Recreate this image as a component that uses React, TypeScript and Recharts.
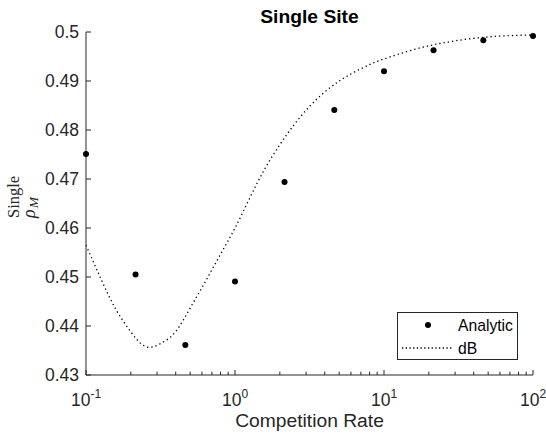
import { ComposedChart, Line, Scatter, XAxis, YAxis, Legend } from "recharts"

// Analytic points (competition rate, rho)
const analyticX = [0.1, 0.215, 0.464, 1, 2.15, 4.64, 10, 21.5, 46.4, 100]
const analyticY = [0.4751, 0.4505, 0.4361, 0.4491, 0.4694, 0.4841, 0.492, 0.4963, 0.4983, 0.4992]

// dB curve
const dbX = [
  0.1, 0.126, 0.158, 0.2, 0.251, 0.316, 0.398, 0.501, 0.631, 0.794, 1, 1.26, 1.58, 2, 2.51, 3.16,
  3.98, 5.01, 6.31, 7.94, 10, 15.8, 25.1, 39.8, 63.1, 100,
]
const dbY = [
  0.4565, 0.4496, 0.4435, 0.4388, 0.4358, 0.4364, 0.4388, 0.4437, 0.449, 0.4545, 0.46, 0.4662,
  0.472, 0.477, 0.4812, 0.4848, 0.4877, 0.49, 0.4918, 0.4933, 0.4945, 0.4964, 0.4978, 0.4987,
  0.4992, 0.4994,
]

const majorXTicks = [0.1, 1, 10, 100]
const xExponents = ["-1", "0", "1", "2"]
const minorXTicks = [
  0.2, 0.3, 0.4, 0.5, 0.6, 0.7, 0.8, 0.9, 2, 3, 4, 5, 6, 7, 8, 9, 20, 30, 40, 50, 60, 70, 80, 90,
]
const yTicks = [0.43, 0.44, 0.45, 0.46, 0.47, 0.48, 0.49, 0.5]
const seriesNames = ["Analytic", "dB"]

const analyticData = analyticX.map((x, i) => ({ x, y: analyticY[i] }))
const dbData = dbX.map((x, i) => ({ x, y: dbY[i] }))
const xTicks = [...majorXTicks, ...minorXTicks].sort((a, b) => a - b)

const AXIS = "#262626"
const SANS = "'Liberation Sans', Arial, Helvetica, sans-serif"
const SERIF = "'Liberation Serif', 'Times New Roman', serif"

function XTick(props: any) {
  const { x, y, payload } = props
  const idx = majorXTicks.indexOf(payload.value)
  const major = idx >= 0
  return (
    <g>
      <line x1={x} y1={y} x2={x} y2={y - (major ? 5 : 3.3)} stroke={AXIS} />
      {major && (
        <text x={x} y={y + 30.5} textAnchor="middle" fill={AXIS} fontSize={17.5} fontFamily={SANS}>
          <tspan>10</tspan>
          <tspan dy={-7.5} fontSize={12}>
            {xExponents[idx]}
          </tspan>
        </text>
      )}
    </g>
  )
}

function YTick(props: any) {
  const { x, y, payload } = props
  return (
    <g>
      <line x1={x} y1={y} x2={x + 5} y2={y} stroke={AXIS} />
      <text x={x - 7} y={y + 6.3} textAnchor="end" fill={AXIS} fontSize={17.5} fontFamily={SANS}>
        {String(payload.value)}
      </text>
    </g>
  )
}

function XLabel(props: any) {
  const vb = props.viewBox || {}
  return (
    <text
      x={vb.x + vb.width / 2}
      y={vb.y + 52}
      textAnchor="middle"
      fill={AXIS}
      fontSize={19.25}
      fontFamily={SANS}
    >
      Competition Rate
    </text>
  )
}

function YLabel(props: any) {
  const vb = props.viewBox || {}
  const cy = vb.y + vb.height / 2 + 14.5
  return (
    <g transform={`translate(35, ${cy}) rotate(-90)`} fill={AXIS} fontFamily={SERIF}>
      <text x={0} y={-16} fontSize={16.5}>
        Single
      </text>
      <text x={0} y={0} fontSize={18} fontStyle="italic">
        <tspan>ρ</tspan>
        <tspan dy={3} dx={1} fontSize={13.5}>
          M
        </tspan>
      </text>
    </g>
  )
}

function AnalyticDot(props: any) {
  return <circle cx={props.cx} cy={props.cy} r={3} fill="#000" />
}

function LegendBox() {
  return (
    <div
      style={{
        width: 121,
        height: 48,
        boxSizing: "border-box",
        border: `1px solid ${AXIS}`,
        background: "#fff",
      }}
    >
      <svg width={119} height={46} style={{ display: "block" }}>
        <circle cx={30} cy={12} r={3} fill="#000" />
        <line x1={4} y1={35} x2={55} y2={35} stroke="#000" strokeWidth={1.3} strokeDasharray="1.3 2.4" />
        <text x={60} y={17.7} fontSize={15.7} fontFamily={SANS} fill="#000">
          {seriesNames[0]}
        </text>
        <text x={60} y={40.7} fontSize={15.7} fontFamily={SANS} fill="#000">
          {seriesNames[1]}
        </text>
      </svg>
    </div>
  )
}

export default function App() {
  return (
    <div
      style={{
        position: "absolute",
        left: 0,
        top: 0,
        width: 546,
        height: 437,
        background: "#fff",
        fontFamily: SANS,
      }}
    >
      <div
        style={{
          position: "absolute",
          left: 86,
          top: 7,
          width: 447,
          textAlign: "center",
          fontWeight: "bold",
          fontSize: 19.25,
          lineHeight: "20px",
          color: "#000",
        }}
      >
        Single Site
      </div>
      <ComposedChart width={546} height={437} margin={{ top: 32, right: 13, bottom: 0, left: 0 }}>
        <XAxis
          dataKey="x"
          type="number"
          scale="log"
          domain={[0.1, 100]}
          ticks={xTicks}
          interval={0}
          tickSize={0}
          tickMargin={0}
          tickLine={false}
          axisLine={{ stroke: AXIS }}
          height={62}
          tick={XTick}
          label={<XLabel />}
        />
        <YAxis
          dataKey="y"
          type="number"
          domain={[0.43, 0.5]}
          ticks={yTicks}
          interval={0}
          tickSize={0}
          tickMargin={0}
          tickLine={false}
          axisLine={{ stroke: AXIS }}
          width={86}
          tick={YTick}
          label={<YLabel />}
        />
        <Scatter
          name={seriesNames[0]}
          data={analyticData}
          dataKey="y"
          fill="#000"
          shape={AnalyticDot}
          isAnimationActive={false}
        />
        <Line
          name={seriesNames[1]}
          data={dbData}
          dataKey="y"
          type="natural"
          stroke="#000"
          strokeWidth={1.3}
          strokeDasharray="1.3 3"
          dot={false}
          activeDot={false}
          isAnimationActive={false}
        />
        <Legend
          layout="horizontal"
          verticalAlign="middle"
          align="center"
          content={() => <LegendBox />}
          wrapperStyle={{ left: 397, top: 312, width: 121, height: 48 }}
        />
      </ComposedChart>
    </div>
  )
}
